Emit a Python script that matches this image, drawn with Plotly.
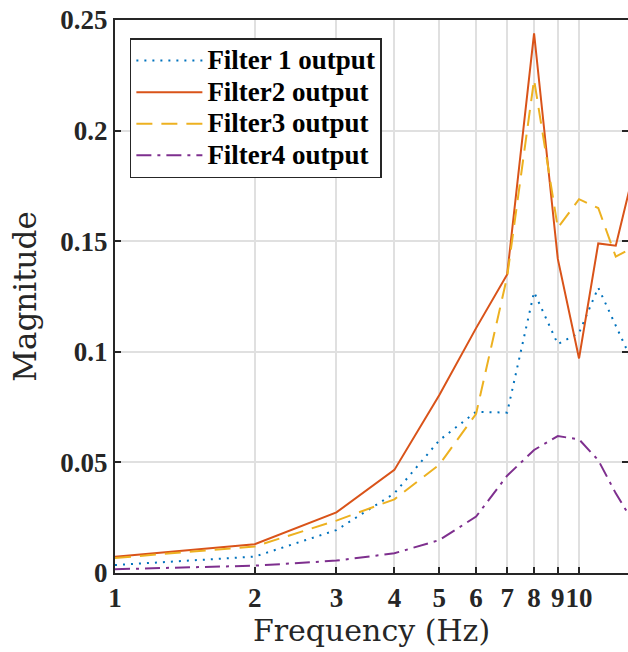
import plotly.graph_objects as go
import numpy as np

freq = [1, 2, 3, 4, 5, 6, 7, 8, 9, 10, 11, 12, 13]
filter1 = [0.0036, 0.0074, 0.0194, 0.036, 0.060, 0.0729, 0.0725, 0.127, 0.1035, 0.1085, 0.129, 0.112, 0.096]
filter2 = [0.0074, 0.013, 0.0274, 0.0466, 0.0805, 0.1107, 0.135, 0.244, 0.142, 0.097, 0.149, 0.148, 0.178]
filter3 = [0.0068, 0.012, 0.0237, 0.0333, 0.049, 0.072, 0.134, 0.223, 0.156, 0.169, 0.165, 0.143, 0.147]
filter4 = [0.0017, 0.0033, 0.0056, 0.0089, 0.0149, 0.0255, 0.044, 0.0556, 0.0619, 0.0604, 0.051, 0.036, 0.024]
names = ["Filter 1 output", "Filter2 output", "Filter3 output", "Filter4 output"]
x_ticks = [1, 2, 3, 4, 5, 6, 7, 8, 9, 10]
y_ticks = [0, 0.05, 0.1, 0.15, 0.2, 0.25]
y_ticktext = ["0", "0.05", "0.1", "0.15", "0.2", "0.25"]

colors = ["#0072BD", "#D95319", "#EDB120", "#7E2F8E"]
dashes = ["2px,6px", "solid", "16px,9px", "15px,6px,3px,6px"]
series = [filter1, filter2, filter3, filter4]

fig = go.Figure()
for s, n, c, d in zip(series, names, colors, dashes):
    fig.add_trace(go.Scatter(x=freq, y=s, mode="lines",
                             name='<span style="font-size:27px">' + n + '</span>',
                             line=dict(color=c, width=2, dash=d)))
# invisible trace to carry the right-side tick marks
fig.add_trace(go.Scatter(x=[freq[0]], y=[filter1[0]], yaxis="y2", mode="lines",
                         showlegend=False, hoverinfo="skip", line=dict(width=0)))

axcol = "#262626"
tickfont = dict(family="Liberation Serif", size=27, color=axcol, weight="bold")
fig.update_layout(
    width=628, height=652,
    margin=dict(l=115, r=0, t=20, b=79),
    paper_bgcolor="white", plot_bgcolor="white",
    showlegend=True,
    legend=dict(x=0.029, y=0.967, xanchor="left", yanchor="top",
                bgcolor="white", bordercolor=axcol, borderwidth=1.5,
                font=dict(family="Liberation Serif", size=22, color="black", weight="bold"),
                itemwidth=66, tracegroupgap=0),
    xaxis=dict(type="log", range=[0, np.log10(12.75)],
               tickvals=x_ticks, ticktext=[str(v) for v in x_ticks], tickangle=0,
               showgrid=True, gridcolor="#e0e0e0", gridwidth=1.5,
               showline=True, linecolor=axcol, linewidth=2, mirror=True,
               ticks="inside", ticklen=6, tickwidth=2, tickcolor=axcol,
               tickfont=tickfont, zeroline=False,
               title=dict(text="Frequency (Hz)", standoff=6,
                          font=dict(family="DejaVu Serif", size=30, color=axcol))),
    yaxis=dict(range=[0, 0.25], tickvals=y_ticks, ticktext=y_ticktext,
               showgrid=True, gridcolor="#e0e0e0", gridwidth=1.5,
               showline=True, linecolor=axcol, linewidth=2, mirror=False,
               ticks="inside", ticklen=6, tickwidth=2, tickcolor=axcol,
               tickfont=tickfont, zeroline=False,
               title=dict(text="Magnitude", standoff=14,
                          font=dict(family="DejaVu Serif", size=31, color=axcol))),
    yaxis2=dict(range=[0, 0.25], overlaying="y", side="right",
                tickvals=y_ticks, showticklabels=False, showgrid=False,
                showline=False, zeroline=False,
                ticks="inside", ticklen=6, tickwidth=2, tickcolor=axcol),
)
fig.write_html("out.html")
